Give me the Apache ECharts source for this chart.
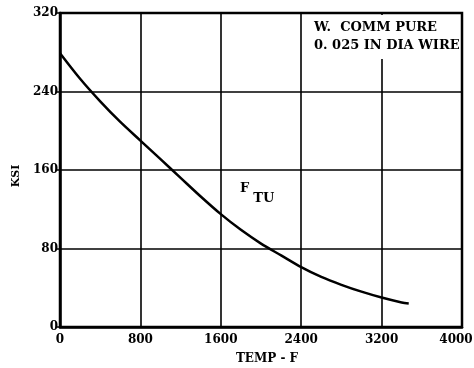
<!DOCTYPE html>
<html><head><meta charset="utf-8">
<script src="https://cdn.jsdelivr.net/npm/echarts@6/dist/echarts.min.js"></script>
<style>html,body{margin:0;padding:0;background:#fff}#c{width:474px;height:368px}</style>
</head><body><div id="c"></div>
<script>
const temps = [0, 200, 400, 600, 800, 1000, 1200, 1400, 1600, 1800, 2000, 2200, 2400, 2600, 2800, 3000, 3200, 3400, 3470];
const ksi   = [279, 253, 230, 209, 190, 171, 152, 133, 115, 99, 85, 73, 61, 51, 43, 36, 30, 25, 24];
const xTicks = [0, 800, 1600, 2400, 3200, 4000];
const yTicks = [0, 80, 160, 240, 320];
const noteLines = ['W.  COMM PURE', '0. 025 IN DIA WIRE'];

const font = '"DejaVu Serif", "Liberation Serif", serif';
const chart = echarts.init(document.getElementById('c'), null, {renderer: 'canvas'});
chart.setOption({
  animation: false,
  backgroundColor: '#fff',
  grid: {left: 60, right: 12, top: 13, bottom: 41, show: true, borderColor: '#000', borderWidth: 2.5,
         outerBoundsMode: 'none', containLabel: false},
  xAxis: {
    type: 'value', min: 0, max: 4000, interval: 800,
    name: 'TEMP - F', nameLocation: 'middle', nameGap: 26,
    nameTextStyle: {fontFamily: font, fontWeight: 'bold', fontSize: 12, color: '#000', padding: [0, 0, 0, 12]},
    axisLine: {show: true, lineStyle: {color: '#000', width: 2.5}},
    axisTick: {show: false},
    axisLabel: {fontFamily: font, fontWeight: 'bold', fontSize: 12, color: '#000', margin: 7,
      formatter: v => xTicks.includes(v) ? (v === 4000 ? '{m|' + v + '}' : String(v)) : '',
      rich: {m: {fontFamily: font, fontWeight: 'bold', fontSize: 12, color: '#000', padding: [0, 12, 0, 0]}}},
    splitLine: {show: true, lineStyle: {color: '#000', width: 1.6}}
  },
  yAxis: {
    type: 'value', min: 0, max: 320, interval: 80,
    name: 'KSI', nameLocation: 'middle', nameGap: 34, nameRotate: 90,
    nameTextStyle: {fontFamily: font, fontWeight: 'bold', fontSize: 11, color: '#000', padding: [0, 12, 0, 0]},
    axisLine: {show: true, lineStyle: {color: '#000', width: 2.5}},
    axisTick: {show: true, length: 3, lineStyle: {color: '#000', width: 1.5}},
    axisLabel: {fontFamily: font, fontWeight: 'bold', fontSize: 12, color: '#000', margin: 2,
      formatter: v => yTicks.includes(v) ? String(v) : ''},
    splitLine: {show: true, lineStyle: {color: '#000', width: 1.6}}
  },
  series: [{
    type: 'line', smooth: 0.3, showSymbol: false,
    data: temps.map((t, i) => [t, ksi[i]]),
    lineStyle: {color: '#000', width: 2.5}
  }],
  graphic: [
    {type: 'rect', left: 304, top: 15, shape: {width: 156, height: 44}, style: {fill: '#fff'}, z: 10},
    {type: 'text', left: 314, top: 19, z: 11,
      style: {text: noteLines.join('\n'), fontFamily: font, fontWeight: 'bold', fontSize: 13, lineHeight: 18, fill: '#000'}},
    {type: 'text', left: 240, top: 182, z: 11,
      style: {text: '{f|F}{s|TU}', rich: {
        f: {fontFamily: font, fontWeight: 'bold', fontSize: 13, fill: '#000', verticalAlign: 'top'},
        s: {fontFamily: font, fontWeight: 'bold', fontSize: 13, fill: '#000', padding: [10, 0, 0, 4]}
      }}}
  ]
});
</script></body></html>
